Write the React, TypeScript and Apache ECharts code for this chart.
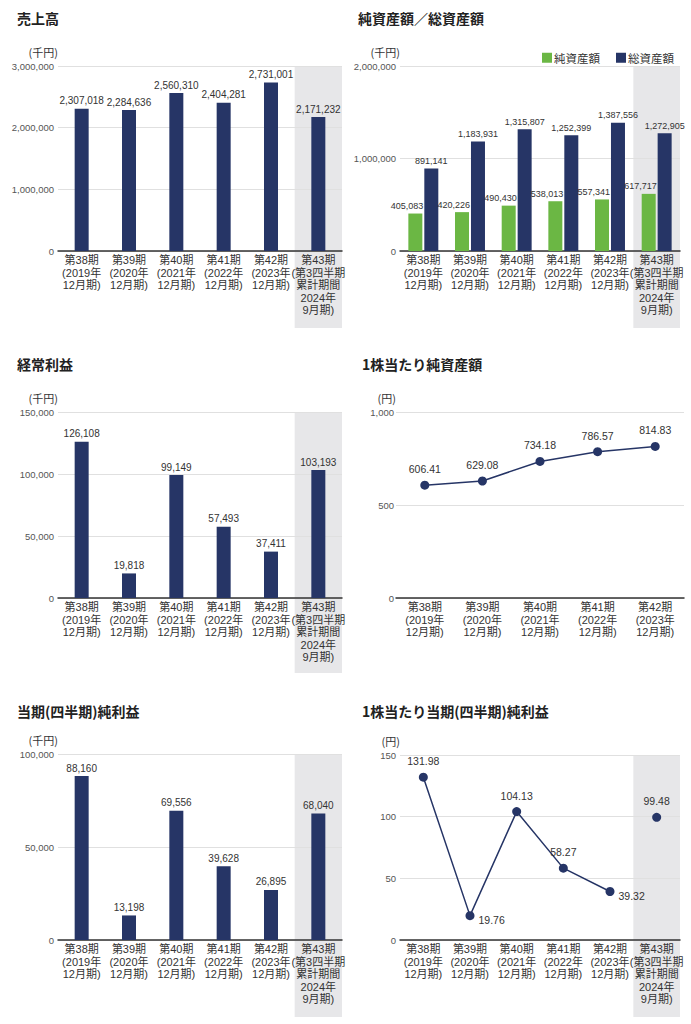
import React, { useEffect, useRef } from "react";
import * as echarts from "echarts";

const categories6 = [
  "第38期\n(2019年\n12月期)",
  "第39期\n(2020年\n12月期)",
  "第40期\n(2021年\n12月期)",
  "第41期\n(2022年\n12月期)",
  "第42期\n(2023年\n12月期)",
  "第43期\n(第3四半期\n累計期間\n2024年\n9月期)",
];
const categories5 = categories6.slice(0, 5);

const sales = [2307018, 2284636, 2560310, 2404281, 2731001, 2171232];
const netAssets = [405083, 420226, 490430, 538013, 557341, 617717];
const totalAssets = [891141, 1183931, 1315807, 1252399, 1387556, 1272905];
const ordinaryProfit = [126108, 19818, 99149, 57493, 37411, 103193];
const bookValuePerShare = [606.41, 629.08, 734.18, 786.57, 814.83];
const netIncome = [88160, 13198, 69556, 39628, 26895, 68040];
const epsYears = [131.98, 19.76, 104.13, 58.27, 39.32, "-"];
const epsQuarter = ["-", "-", "-", "-", "-", 99.48];

const titles = [
  "売上高",
  "純資産額／総資産額",
  "経常利益",
  "1株当たり純資産額",
  "当期(四半期)純利益",
  "1株当たり当期(四半期)純利益",
];
const unitNames = ["(千円)", "(千円)", "(千円)", "(円)", "(千円)", "(円)"];
const yMax = [3000000, 2000000, 150000, 1000, 100000, 150];
const yInterval = [1000000, 1000000, 50000, 500, 50000, 50];
const legendNames = ["純資産額", "総資産額"];

const NAVY = "#263566";
const GREEN = "#6bb744";
const BAND = "#e7e7e9";
const CJK = "'Noto Sans CJK JP', 'Noto Sans', sans-serif";
const MIXED = "'Liberation Sans', 'Noto Sans CJK JP', sans-serif";
const NUM = "'Liberation Sans', Arial, sans-serif";

const grids = [
  { left: 58, top: 66, width: 284, height: 185 },
  { left: 400, top: 66, width: 280, height: 185 },
  { left: 58, top: 412, width: 284, height: 186 },
  { left: 396, top: 412, width: 288, height: 186 },
  { left: 58, top: 754, width: 284, height: 186 },
  { left: 400, top: 755, width: 280, height: 185 },
];
const bandBottoms = [328, 328, 673, null, 1017, 1017];
const titlePos = [
  { left: 17, top: 11 },
  { left: 358, top: 11 },
  { left: 17, top: 357 },
  { left: 362, top: 357 },
  { left: 17, top: 704 },
  { left: 362, top: 704 },
];

const fmtInt = (v: number) => Number(v).toLocaleString("en-US");

export default function App() {
  const ref = useRef<HTMLDivElement>(null);
  useEffect(() => {
    if (!ref.current) return;
    const chart = echarts.init(ref.current, null, { renderer: "svg" });

    const xAxes = grids.map((g, i) => ({
      type: "category",
      gridIndex: i,
      data: i === 3 ? categories5 : categories6,
      axisLine: { lineStyle: { color: "#333", width: 1.5 } },
      axisTick: { show: false },
      axisLabel: {
        interval: 0,
        margin: 3,
        fontSize: 11,
        lineHeight: 12.5,
        color: "#333",
        fontFamily: MIXED,
      },
    }));

    const yAxes = grids.map((g, i) => ({
      type: "value",
      gridIndex: i,
      min: 0,
      max: yMax[i],
      interval: yInterval[i],
      axisLine: { show: false },
      axisTick: { show: false },
      splitLine: { lineStyle: { color: "#e0e0e0", width: 1 } },
      axisLabel: {
        margin: i === 3 ? 2 : 4,
        fontSize: 9.5,
        color: "#555",
        fontFamily: NUM,
        formatter: (v: number) => fmtInt(v),
      },
      name: unitNames[i],
      nameLocation: "end",
      nameGap: 14,
      nameTextStyle: {
        align: "right",
        verticalAlign: "middle",
        fontSize: 11,
        color: "#333",
        fontFamily: CJK,
      },
    }));

    const barLabel = {
      show: true,
      position: "top",
      distance: 3,
      fontSize: 10,
      color: "#333",
      fontFamily: NUM,
      formatter: (p: any) => fmtInt(p.value),
    };
    const lineLabel = {
      show: true,
      position: "top",
      distance: 6,
      fontSize: 10.5,
      color: "#333",
      fontFamily: NUM,
      formatter: (p: any) => Number(p.value).toFixed(2),
    };

    const bands: any[] = [];
    grids.forEach((g, i) => {
      const b = bandBottoms[i];
      if (b == null) return;
      const w = g.width / 6;
      bands.push({
        type: "rect",
        z: -1,
        shape: { x: g.left + w * 5, y: g.top, width: w, height: b - g.top },
        style: { fill: BAND },
      });
    });

    const option: any = {
      animation: false,
      backgroundColor: "#fff",
      title: titles.map((t, i) => ({
        text: t,
        left: titlePos[i].left,
        top: titlePos[i].top,
        padding: 0,
        textStyle: { fontSize: 14, fontWeight: "bold", color: "#222", fontFamily: CJK },
      })),
      legend: {
        data: legendNames,
        top: 47,
        right: 12,
        itemWidth: 10,
        itemHeight: 10,
        itemGap: 16,
        icon: "rect",
        textStyle: { fontSize: 11.5, color: "#333", fontFamily: CJK, padding: [0, 0, 0, -3] },
      },
      grid: grids,
      xAxis: xAxes,
      yAxis: yAxes,
      graphic: bands,
      series: [
        {
          type: "bar",
          xAxisIndex: 0,
          yAxisIndex: 0,
          data: sales,
          barWidth: 14,
          itemStyle: { color: NAVY },
          label: barLabel,
        },
        {
          name: legendNames[0],
          type: "bar",
          xAxisIndex: 1,
          yAxisIndex: 1,
          z: 3,
          data: netAssets,
          barWidth: 14,
          barGap: "14%",
          itemStyle: { color: GREEN },
          label: { ...barLabel, fontSize: 9, align: "right", offset: [8, 0] },
        },
        {
          name: legendNames[1],
          type: "bar",
          xAxisIndex: 1,
          yAxisIndex: 1,
          data: totalAssets,
          barWidth: 14,
          barGap: "14%",
          itemStyle: { color: NAVY },
          label: { ...barLabel, fontSize: 9 },
        },
        {
          type: "bar",
          xAxisIndex: 2,
          yAxisIndex: 2,
          data: ordinaryProfit,
          barWidth: 14,
          itemStyle: { color: NAVY },
          label: barLabel,
        },
        {
          type: "line",
          xAxisIndex: 3,
          yAxisIndex: 3,
          data: bookValuePerShare,
          symbol: "circle",
          symbolSize: 9,
          lineStyle: { color: NAVY, width: 1.5 },
          itemStyle: { color: NAVY },
          label: lineLabel,
        },
        {
          type: "bar",
          xAxisIndex: 4,
          yAxisIndex: 4,
          data: netIncome,
          barWidth: 14,
          itemStyle: { color: NAVY },
          label: barLabel,
        },
        {
          type: "line",
          xAxisIndex: 5,
          yAxisIndex: 5,
          data: epsYears.map((v, idx) =>
            idx === 1 || idx === 4
              ? { value: v, label: { position: "right", distance: 4, offset: [0, 4] } }
              : v
          ),
          symbol: "circle",
          symbolSize: 9,
          lineStyle: { color: NAVY, width: 1.5 },
          itemStyle: { color: NAVY },
          label: lineLabel,
        },
        {
          type: "line",
          xAxisIndex: 5,
          yAxisIndex: 5,
          data: epsQuarter,
          symbol: "circle",
          symbolSize: 9,
          showSymbol: true,
          lineStyle: { color: NAVY, width: 1.5 },
          itemStyle: { color: NAVY },
          label: lineLabel,
        },
      ],
    };
    chart.setOption(option);
    return () => chart.dispose();
  }, []);

  return (
    <div
      ref={ref}
      style={{ position: "absolute", left: 0, top: 0, width: 691, height: 1024, background: "#fff" }}
    />
  );
}
